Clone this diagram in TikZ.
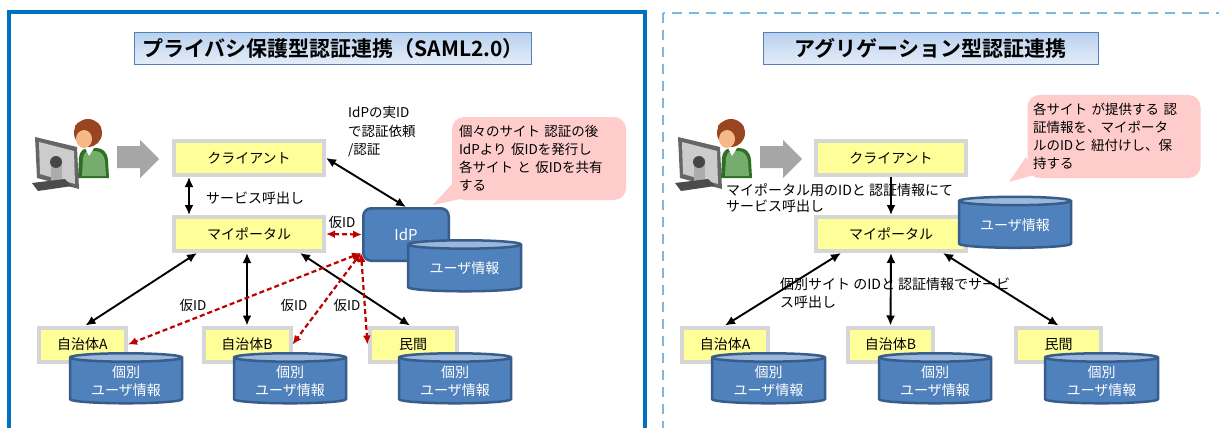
\documentclass[tikz,border=0pt]{standalone}
\usepackage{fontspec}
\setmainfont{Noto Sans CJK JP}[BoldFont={Noto Sans CJK JP Bold}]
\usetikzlibrary{arrows.meta,shapes.geometric,calc}

\definecolor{panelblue}{HTML}{0070C0}
\definecolor{dashblue}{HTML}{7DB8E2}
\definecolor{boxgray}{HTML}{D6D6D6}
\definecolor{boxyellow}{HTML}{FFFF99}
\definecolor{dbblue}{HTML}{4F81BD}
\definecolor{dbedge}{HTML}{385D8A}
\definecolor{dbtop}{HTML}{9BB7DB}
\definecolor{notepink}{HTML}{FFCCCC}
\definecolor{tmpred}{HTML}{C00000}
\definecolor{titleedge}{HTML}{4F81BD}
\definecolor{titletop}{HTML}{B9D1EE}
\definecolor{titlebot}{HTML}{E4EDF9}
\definecolor{arrowgray}{HTML}{A6A6A6}
\definecolor{hair}{HTML}{9A4521}
\definecolor{skin}{HTML}{F6B886}
\definecolor{shirt}{HTML}{3A8A2E}

\newcommand{\fs}[2]{\fontsize{#1pt}{#2pt}\selectfont}

\tikzset{
  titlebox/.style={draw=titleedge, line width=1pt, top color=titletop, bottom color=titlebot,
    minimum height=32, inner sep=0, font=\fs{21}{24}\bfseries},
  ybox/.style={draw=boxgray, line width=4pt, fill=boxyellow, minimum height=34,
    inner sep=0, font=\fs{14}{17}},
  db/.style={cylinder, shape border rotate=90, shape aspect=0.12, draw=dbedge,
    line width=2.5pt, cylinder uses custom fill, cylinder body fill=dbblue,
    cylinder end fill=dbtop, text=white, align=center, inner sep=0,
    font=\fs{14}{18}},
  note/.style={fill=notepink, rounded corners=12pt, align=left, inner sep=0,
    font=\fs{13.5}{18}},
  lbl/.style={inner sep=0, font=\fs{14}{18}, align=left},
  conn/.style={line width=1.9pt, >={Latex[length=10pt,width=9pt]}},
  tmp/.style={<->, draw=tmpred, line width=2.2pt, dash pattern=on 5pt off 3pt,
    >={Latex[length=9pt,width=8pt]}},
  userpc/.pic={
    % user behind a monitor, with the grey block arrow to its right
    \fill[shirt!80!black] (58,68) -- (59,48) .. controls (60,40) and (64,38) .. (70,38)
      -- (76,38) .. controls (83,38) and (87,42) .. (88,50) -- (89,68) -- cycle;
    \fill[shirt!70!white] (62,66) -- (63,48) .. controls (64,42) and (67,41) .. (70,41)
      -- (75,41) .. controls (81,41) and (84,45) .. (85,51) -- (86,66) -- cycle;
    \fill[white] (65,38) -- (74,38) -- (69,46) -- cycle;
    \fill[hair] (68,23) circle[radius=14];
    \fill[skin] (64,29) ellipse[x radius=8, y radius=9];
    \fill[hair] (55,16) .. controls (60,8) and (76,7) .. (81,17) -- (74,22) .. controls (68,18) and (62,18) .. (56,24) -- cycle;
    \fill[gray!80!black] (15,27) -- (57,37) -- (59,79) -- (17,68) -- cycle;
    \fill[gray!40] (19,32) -- (54,41) -- (55,74) -- (20,64) -- cycle;
    \fill[gray!65] (31,49) rectangle (42,72);
    \fill[gray!55!black] (36,52) circle[radius=6];
    \fill[gray!60!black] (12,73) -- (45,69) -- (52,76) -- (18,81) -- cycle;
    \fill[arrowgray] (97,36) -- (120,36) -- (120,30) -- (139,49) -- (120,68) -- (120,58) -- (97,58) -- cycle;
  }
}

\begin{document}
\begin{tikzpicture}[x=1pt, y=-1pt]
\useasboundingbox (0,0) rectangle (1219,428);
\clip (0,0) rectangle (1219,428);
\fill[white] (0,0) rectangle (1219,428);

% ---------- frames ----------
\draw[panelblue, line width=4pt] (9,12) rectangle (645,445);
\draw[dashblue, line width=2.5pt, dash pattern=on 10pt off 7pt] (663,13) rectangle (1235,445);

% ---------- left: privacy-preserving federation ----------
\node[titlebox, minimum width=397] (t1) at (333,48.5) {プライバシ保護型認証連携（SAML2.0）};

\pic at (20,110) {userpc};

\node[ybox, minimum width=150] (cl) at (249,158) {クライアント};
\node[ybox, minimum width=150] (mp) at (249,234) {マイポータル};
\node[ybox, minimum width=87] (jA) at (82.5,344.5) {自治体A};
\node[ybox, minimum width=87] (jB) at (247,344.5) {自治体B};
\node[ybox, minimum width=87] (mk) at (413,344.5) {民間};

\node[draw=dbedge, line width=2.5pt, fill=dbblue, rounded corners=8pt,
  minimum width=85.5, minimum height=52.5, text=white, font=\fs{15}{18}] (idp) at (406,234.5) {IdP};
\node[db, minimum width=113, minimum height=51] (idpdb) at (464.5,268.5) {ユーザ情報};

\node[db, minimum width=112, minimum height=50] (dA) at (126,381) {個別\\ユーザ情報};
\node[db, minimum width=112, minimum height=50] (dB) at (290,381) {個別\\ユーザ情報};
\node[db, minimum width=112, minimum height=50] (dM) at (455,381) {個別\\ユーザ情報};

% note balloon
\fill[notepink] (452,184) -- (460,199) -- (433,205) -- cycle;
\node[note, minimum width=174, minimum height=83, text width=160] (n1) at (539,158.5)
  {個々のサイト 認証の後\\IdPより 仮IDを発行し\\各サイト と 仮IDを共有\\する};

% labels
\node[lbl, anchor=west] (l1) at (206,198) {サービス呼出し};
\node[lbl, anchor=north west, font=\fs{13.5}{18.5}] (l2) at (348,106) {IdPの実ID\\で認証依頼\\/認証};
\node[lbl, font=\fs{13.5}{16}] (k0) at (342,222) {仮ID};
\node[lbl, font=\fs{13.5}{16}] (k1) at (193,305) {仮ID};
\node[lbl, font=\fs{13.5}{16}] (k2) at (294,305) {仮ID};
\node[lbl, font=\fs{13.5}{16}] (k3) at (347,305) {仮ID};

% connectors
\draw[conn, <->] (cl.east) -- (idp.north);
\draw[conn, <->] ([xshift=-60pt]cl.south) -- ([xshift=-60pt]mp.north);
\draw[conn, <->] ([xshift=-52pt]mp.south) -- ([xshift=3pt]jA.north);
\draw[conn, <->] (mp.south -| jB.north) -- (jB.north);
\draw[conn, <->] ([xshift=51pt]mp.south) -- ([xshift=-3pt]mk.north);

\coordinate (rp) at (361,253);
\draw[tmp] (mp.east) -- (idp.west);
\draw[tmp] (rp) -- (jA.east);
\draw[tmp] (rp) -- (jB.east);
\draw[tmp] (rp) -- (mk.west);

% ---------- right: aggregation federation ----------
\node[titlebox, minimum width=335] (t2) at (930.5,48.5) {アグリゲーション型認証連携};

\pic at (663,110) {userpc};

\node[ybox, minimum width=150] (cl2) at (891,158) {クライアント};
\node[ybox, minimum width=150] (mp2) at (891,234) {マイポータル};
\node[ybox, minimum width=86] (jA2) at (725,344.5) {自治体A};
\node[ybox, minimum width=85] (jB2) at (890.5,344.5) {自治体B};
\node[ybox, minimum width=85] (mk2) at (1058.5,344.5) {民間};

\node[db, minimum width=112, minimum height=51] (db2) at (1015,225) {ユーザ情報};
\node[db, minimum width=113, minimum height=50] (dA2) at (768.5,381) {個別\\ユーザ情報};
\node[db, minimum width=112, minimum height=50] (dB2) at (935,381) {個別\\ユーザ情報};
\node[db, minimum width=113, minimum height=50] (dM2) at (1101.5,381) {個別\\ユーザ情報};

\fill[notepink] (1026,157) -- (1034,175) -- (1009,182) -- cycle;
\node[note, minimum width=173, minimum height=83, text width=162] (n2) at (1114,136.5)
  {各サイト が提供する 認\\証情報を、マイポータ\\ルのIDと 紐付けし、保\\持する};

\node[lbl, anchor=north west, font=\fs{14}{16.5}] (r1) at (726,183) {マイポータル用のIDと 認証情報にて\\サービス呼出し};
\node[lbl, anchor=north west, font=\fs{14}{18}] (r2) at (780,278) {個別サイト のIDと 認証情報でサービ\\ス呼出し};

\draw[conn, ->] (cl2.south) -- (mp2.north);
\draw[conn, <->] ([xshift=-50pt]mp2.south) -- (jA2.north);
\draw[conn, <->] (mp2.south) -- (jB2.north);
\draw[conn, <->] ([xshift=52pt]mp2.south) -- (mk2.north);
\end{tikzpicture}
\end{document}
